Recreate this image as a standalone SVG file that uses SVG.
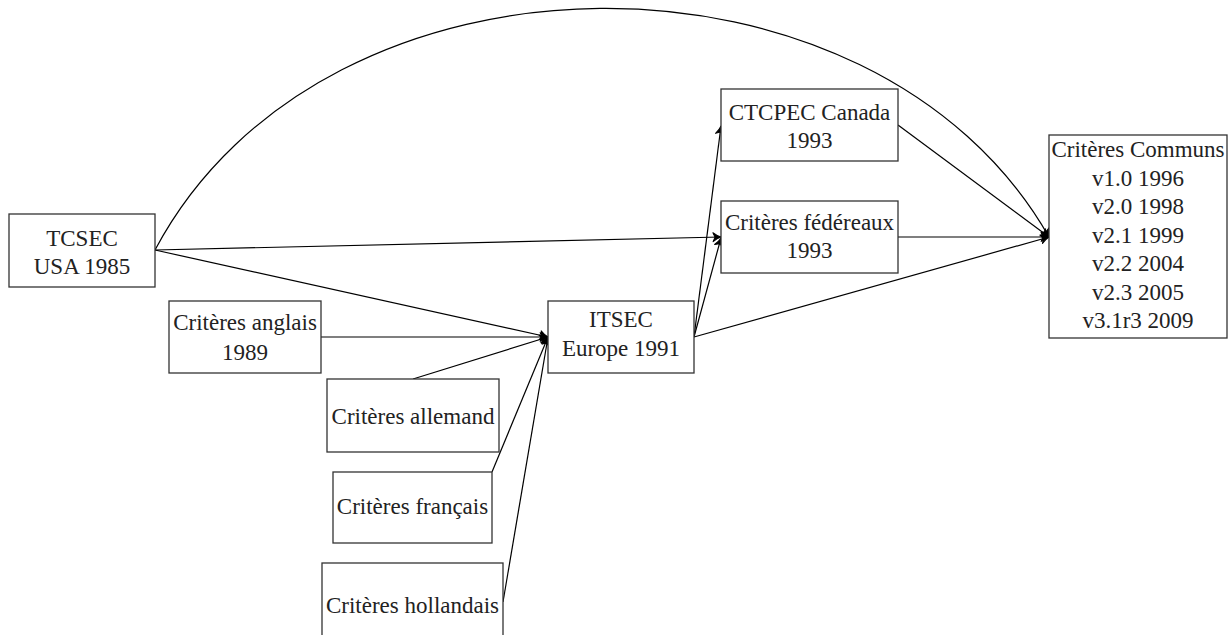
<svg xmlns="http://www.w3.org/2000/svg" width="1231" height="635" viewBox="0 0 1231 635">
  <defs>
    <style>
      .box { fill: #ffffff; stroke: #333333; stroke-width: 1.3; }
      .lbl { font-size: 23px; fill: #222222; text-anchor: middle; }
      .edge { fill: none; stroke: #000000; stroke-width: 1.2; }
    </style>
    <marker id="tip" viewBox="-9 -6 11 12" refX="0" refY="0" markerWidth="11" markerHeight="12" markerUnits="userSpaceOnUse" orient="auto">
      <path d="M -8,-4.5 C -5,-2 -2,-0.6 0,0 C -2,0.6 -5,2 -8,4.5 L -6,0 Z" fill="#000000" stroke="#000000" stroke-width="1" stroke-linejoin="round"/>
    </marker>
  </defs>

  <!-- connectors -->
  <g id="connectors" class="edge" marker-end="url(#tip)">
    <path d="M155,250 C325,-70 874,-70 1049,237"/>
    <path d="M155,250 L721,237"/>
    <path d="M155,250 L548,337"/>
    <path d="M321,337 L548,337"/>
    <path d="M413,379 L548,337"/>
    <path d="M492,472 L548,337"/>
    <path d="M503,602 L548,337"/>
    <path d="M694,337 L721,126"/>
    <path d="M694,337 L721,238"/>
    <path d="M694,337 L1049,237"/>
    <path d="M898,125 L1049,237"/>
    <path d="M898,237 L1049,237"/>
  </g>

  <!-- nodes -->
  <g font-family="Liberation Serif, Times New Roman, DejaVu Serif, serif">
  <g id="tcsec">
    <rect class="box" x="9" y="214" width="146" height="73"/>
    <text class="lbl" x="82" y="246">TCSEC</text>
    <text class="lbl" x="82" y="274">USA 1985</text>
  </g>
  <g id="anglais">
    <rect class="box" x="169" y="301" width="152" height="72"/>
    <text class="lbl" x="245" y="330">Critères anglais</text>
    <text class="lbl" x="245" y="360">1989</text>
  </g>
  <g id="allemand">
    <rect class="box" x="327" y="379" width="172" height="73"/>
    <text class="lbl" x="413" y="424">Critères allemand</text>
  </g>
  <g id="francais">
    <rect class="box" x="333" y="472" width="159" height="71"/>
    <text class="lbl" x="412.5" y="514">Critères français</text>
  </g>
  <g id="hollandais">
    <rect class="box" x="322" y="563" width="181" height="90"/>
    <text class="lbl" x="412.5" y="613">Critères hollandais</text>
  </g>
  <g id="itsec">
    <rect class="box" x="548" y="301" width="146" height="72"/>
    <text class="lbl" x="621" y="327">ITSEC</text>
    <text class="lbl" x="621" y="356">Europe 1991</text>
  </g>
  <g id="ctcpec">
    <rect class="box" x="721" y="89" width="177" height="72"/>
    <text class="lbl" x="809.5" y="120">CTCPEC Canada</text>
    <text class="lbl" x="809.5" y="148">1993</text>
  </g>
  <g id="federaux">
    <rect class="box" x="721" y="201" width="177" height="72"/>
    <text class="lbl" x="809.5" y="230">Critères fédéreaux</text>
    <text class="lbl" x="809.5" y="258">1993</text>
  </g>
  <g id="communs">
    <rect class="box" x="1049" y="135" width="178" height="203"/>
    <text class="lbl" x="1138" y="157">Critères Communs</text>
    <text class="lbl" x="1138" y="185.5">v1.0 1996</text>
    <text class="lbl" x="1138" y="214">v2.0 1998</text>
    <text class="lbl" x="1138" y="242.5">v2.1 1999</text>
    <text class="lbl" x="1138" y="271">v2.2 2004</text>
    <text class="lbl" x="1138" y="299.5">v2.3 2005</text>
    <text class="lbl" x="1138" y="328">v3.1r3 2009</text>
  </g>
  </g>
</svg>
